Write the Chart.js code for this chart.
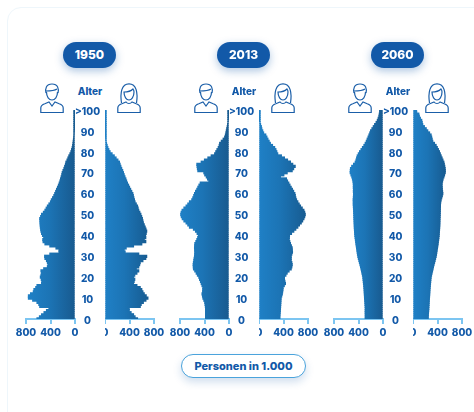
<!DOCTYPE html>
<html>
<head>
<meta charset="utf-8">
<title>Alterspyramiden</title>
<script src="https://cdn.jsdelivr.net/npm/chart.js@4"></script>
<style>
html, body { margin: 0; padding: 0; background: #fff; }
body { width: 474px; height: 412px; position: relative; overflow: hidden; font-family: Inter, "Open Sans", sans-serif; }
#panel { position: absolute; left: 7px; top: 7px; width: 520px; height: 460px; border: 1px solid #eef6fb; border-radius: 14px; }
canvas { position: absolute; }
.pill { position: absolute; top: 42px; width: 53px; height: 26px; line-height: 26px; border-radius: 13px; background: #1259a8; color: #fff; font-size: 12px; font-weight: 800; text-align: center; box-shadow: 0 3px 8px rgba(18, 89, 168, .35); }
.alter { position: absolute; top: 84px; width: 40px; text-align: center; color: #1259a8; font-size: 10px; font-weight: 800; line-height: 14px; }
.icon { position: absolute; top: 83px; width: 24px; height: 30px; }
#unit { position: absolute; left: 181px; top: 354px; width: 123px; height: 22px; line-height: 22px; border: 1.5px solid #4aa3dc; border-radius: 13px; background: #fff; color: #1259a8; font-size: 11px; font-weight: 800; text-align: center; box-shadow: 0 4px 8px rgba(18, 89, 168, .2); }
</style>
</head>
<body>
<div id="panel"></div>
<div id="unit">Personen in 1.000</div>
<script>
var years = ["1950", "2013", "2060"];
var xTicks = [0, 400, 800];
var ageTitle = "Alter";

// age 0 up to 100, one value per year
var male1950 = [620,580,545,505,465,425,575,590,620,690,760,760,725,680,670,640,620,545,540,550,
  565,555,545,555,510,450,440,450,465,490,495,410,260,260,310,410,490,520,525,510,
  530,545,555,560,565,568,570,572,575,560,545,515,490,470,450,425,400,385,365,345,
  330,315,300,285,270,257,245,235,225,215,208,195,180,168,155,148,130,115,100,82,
  66,55,45,38,32,28,24,20,16,14,12,10,8,6,4,3,2,2,1,1,1];
var female1950 = [530,490,465,425,395,395,575,590,625,667,700,672,640,618,600,574,520,465,475,485,
  465,485,520,550,510,550,565,574,618,665,680,550,328,312,345,465,600,665,640,665,
  660,672,680,668,655,640,625,618,610,598,585,568,550,540,530,510,490,480,470,462,
  454,436,418,400,384,366,352,340,325,312,300,288,272,258,246,235,210,180,150,115,
  82,62,46,34,24,16,13,11,9,7,6,5,4,4,3,3,2,2,1,1,1];
var male2013 = [382,382,382,382,382,382,385,390,395,410,425,432,440,430,428,426,440,453,465,480,
  492,515,535,558,579,582,584,580,574,568,562,560,557,560,562,560,557,540,524,510,
  497,520,546,580,645,672,700,735,762,778,787,780,765,735,700,672,645,607,590,575,
  562,545,525,508,490,469,328,350,370,395,410,508,515,520,524,453,400,344,290,234,
  215,196,175,160,152,125,95,70,58,50,43,36,28,22,16,13,11,10,8,6,4];
var female2013 = [338,340,342,345,348,350,352,354,356,358,360,370,380,385,390,393,412,431,422,415,
  415,438,459,490,525,535,541,535,525,525,525,535,546,543,541,528,513,502,492,495,
  497,530,567,600,633,660,689,712,732,745,754,745,732,705,677,655,633,612,600,592,
  585,565,545,525,505,486,465,448,349,405,459,541,565,590,550,513,465,415,365,305,
  290,275,255,220,185,165,145,128,110,75,60,45,38,25,15,10,8,6,4,3,2];
var male2060 = [289,289,289,290,290,289,291,293,295,298,300,302,304,306,308,311,314,318,321,325,
  328,335,343,350,358,366,375,384,393,402,410,416,421,426,431,436,441,446,450,455,
  459,462,464,466,468,469,471,472,474,475,476,478,479,481,483,485,484,486,483,481,
  480,483,481,484,482,485,490,498,508,522,535,533,530,510,480,453,440,430,420,402,
  382,358,335,311,290,272,258,243,229,215,202,180,158,136,112,92,78,66,60,54,54];
var female2060 = [246,248,250,252,255,257,259,261,263,265,267,270,272,274,276,279,282,285,288,291,
  295,302,310,318,326,333,342,351,360,368,377,383,388,393,399,404,409,413,418,422,
  426,428,430,433,435,437,438,439,440,442,443,444,445,446,447,448,452,458,468,478,
  486,482,478,476,473,475,482,490,503,514,525,526,524,518,510,503,488,474,459,445,
  431,414,396,377,350,322,312,304,295,270,240,215,185,158,150,142,120,103,95,60,55];

var ages = [];
for (var a = 0; a <= 100; a++) ages.push(a);

// where each pyramid sits on the page, pixel of the inner edge of the male half
var pyramidLeft = [75, 229, 383];
var dark = "#1259a8";
var fontName = "Inter, 'Open Sans', sans-serif";

function makeHalf(values, isMale, left) {
  var canvas = document.createElement("canvas");
  canvas.width = isMale ? 95 : 65;
  canvas.height = 245;
  canvas.style.left = left + "px";
  canvas.style.top = "100px";
  document.body.appendChild(canvas);

  return new Chart(canvas, {
    type: "bar",
    data: {
      labels: ages,
      datasets: [{
        data: values,
        barPercentage: 1,
        categoryPercentage: 1,
        borderWidth: 0,
        inflateAmount: 0.6, // no seams between the one-year bars
        backgroundColor: function(c) {
          var scale = c.chart.scales.x;
          if (!scale) return "#1c70ad";
          var outer = scale.getPixelForValue(Math.max.apply(null, values));
          var inner = scale.getPixelForValue(0);
          // scale has no size yet on the first pass
          if (!isFinite(outer) || !isFinite(inner)) return "#1c70ad";
          var g = c.chart.ctx.createLinearGradient(outer, 0, inner, 0);
          if (isMale) {
            g.addColorStop(0, "#1f80c6");
            g.addColorStop(0.45, "#1c74b5");
            g.addColorStop(1, "#185a8f");
          } else {
            g.addColorStop(0, "#175c92");
            g.addColorStop(0.55, "#1c74b5");
            g.addColorStop(1, "#1f80c6");
          }
          return g;
        }
      }]
    },
    options: {
      indexAxis: "y",
      responsive: false,
      animation: false,
      layout: { padding: { left: isMale ? 16 : 0, right: isMale ? 0 : 16, top: 10, bottom: 0 } },
      plugins: { legend: { display: false }, tooltip: { enabled: false } },
      scales: {
        x: {
          type: "linear",
          min: 0,
          max: 800,
          reverse: isMale,
          afterBuildTicks: function(axis) {
            axis.ticks = xTicks.map(function(v) { return { value: v }; });
          },
          afterFit: function(axis) {
            axis.height = 26;
            axis.paddingLeft = 0;
            axis.paddingRight = 0;
          },
          grid: { drawOnChartArea: false, color: "#7cc5f1", lineWidth: 2, tickLength: 5 },
          border: { color: "#7cc5f1", width: 2 },
          ticks: { color: dark, font: { family: fontName, size: 10, weight: "800" }, padding: 3, maxRotation: 0, autoSkip: false }
        },
        y: {
          type: "linear",
          min: 0,
          max: 100,
          offset: false,
          display: isMale,
          position: "right",
          afterFit: function(axis) {
            if (isMale) axis.width = 30;
            axis.paddingTop = 0;
            axis.paddingBottom = 0;
          },
          grid: { display: false, drawTicks: false, offset: false },
          border: { display: false },
          ticks: {
            stepSize: 10,
            padding: 0,
            crossAlign: "center",
            labelOffset: 1.7,
            color: dark,
            font: { family: fontName, size: 10, weight: "800" },
            callback: function(v) { return v == 100 ? ">100" : v; }
          }
        }
      }
    }
  });
}

var manIcon = '<svg class="icon" viewBox="0 0 24 30" fill="none" stroke="#1a5ea8" stroke-width="1.2" style="left:{x}px">' +
  '<path d="M6 10C5 6 6 1 12 1s7 5 6 9"/><path d="M6 8c3 0 8 0 11-2"/><path d="M6.5 9c0 5 2.5 8 5.5 8s5.5-3 5.5-8"/>' +
  '<path d="M.8 29.5V25c0-2.500 1.500-3.500 4-4.300L9 19l3 4 3-4 4.200 1.700c2.500.8 4 1.800 4 4.300v4.500z"/></svg>';
var womanIcon = '<svg class="icon" viewBox="0 0 24 30" fill="none" stroke="#1a5ea8" stroke-width="1.2" style="left:{x}px">' +
  '<path d="M4.500 20C3 10 4.500 .8 12 .8S21 10 19.500 20"/><path d="M7 9c3 0 7-1 9-3 .8 1 1 2 1 3 0 5-2.500 8-5 8s-5-3-5-8z"/>' +
  '<path d="M.8 29.500V25c0-2.500 1.500-3.500 4-4.300L9 19c1.500 2 4.500 2 6 0l4.200 1.700c2.500.8 4 1.800 4 4.300v4.500z"/></svg>';

var series = [[male1950, female1950], [male2013, female2013], [male2060, female2060]];

years.forEach(function(year, i) {
  var x0 = pyramidLeft[i];
  // male half carries the age axis between the two halves
  makeHalf(series[i][0], true, x0 - 65);
  makeHalf(series[i][1], false, x0 + 30);

  var pill = document.createElement("div");
  pill.className = "pill";
  pill.style.left = (x0 - 12) + "px";
  pill.textContent = year;
  document.body.appendChild(pill);

  var alter = document.createElement("div");
  alter.className = "alter";
  alter.style.left = (x0 - 5) + "px";
  alter.textContent = ageTitle;
  document.body.appendChild(alter);

  var holder = document.createElement("div");
  holder.innerHTML = manIcon.replace("{x}", x0 - 35) + womanIcon.replace("{x}", x0 + 42);
  document.body.appendChild(holder);
});
</script>
</body>
</html>
